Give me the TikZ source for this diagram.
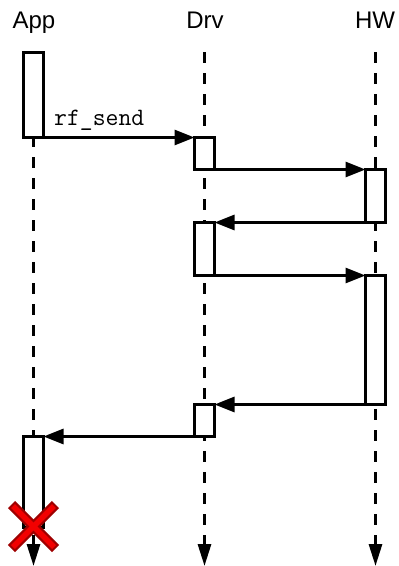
\documentclass[tikz,border=0pt]{standalone}
\usepackage{fontspec}
\setmainfont{Liberation Sans}
\usetikzlibrary{arrows.meta,calc}
\definecolor{xred}{HTML}{F20000}
\definecolor{xdark}{HTML}{9E0000}
\begin{document}
\begin{tikzpicture}[x=1pt,y=-1pt,
  head/.style={font=\fontsize{24}{28}\selectfont, anchor=base, inner sep=0},
  act/.style={draw, line width=3pt, fill=white, minimum width=20pt, inner sep=0, outer sep=0, anchor=center},
  msg/.style={line width=3pt, -{Triangle[length=20pt,width=15pt]}},
  life/.style={line width=3pt, dash pattern=on 10.5pt off 10.5pt, -{Triangle[length=22pt,width=13pt]}}
]
\useasboundingbox (0,0) rectangle (399,566);
% headers
\node[head] (happ) at (34,28) {App};
\node[head] (hdrv) at (205,28) {Drv};
\node[head] (hhw) at (375,28) {HW};
% lifelines
\coordinate (at) at (33.5,52);  \coordinate (ab) at (33.5,566);
\coordinate (dt) at (204.5,52); \coordinate (db) at (204.5,566);
\coordinate (ht) at (375.5,52); \coordinate (hb) at (375.5,566);
\draw[life] (at) -- (ab);
\draw[life] (dt) -- (db);
\draw[life] (ht) -- (hb);
% activation boxes
\node[act, minimum height=85pt] (a1) at (33.5,95) {};
\node[act, minimum height=32pt] (d1) at (204.5,153.5) {};
\node[act, minimum height=53pt] (h1) at (375.5,196) {};
\node[act, minimum height=53pt] (d2) at (204.5,249) {};
\node[act, minimum height=129pt] (h2) at (375.5,340) {};
\node[act, minimum height=32pt] (d3) at (204.5,420.5) {};
\node[act, minimum height=91pt] (a2) at (33.5,482) {};
% messages
\draw[msg] (a1.south east) -- (d1.north west);
\node[font=\fontsize{25}{28}\selectfont\ttfamily, anchor=base west, inner sep=0] (lbl) at (54,125) {rf\_send};
\draw[msg] (d1.south east) -- (h1.north west);
\draw[msg] (h1.south west) -- (d2.north east);
\draw[msg] (d2.south east) -- (h2.north west);
\draw[msg] (h2.south west) -- (d3.north east);
\draw[msg] (d3.south west) -- (a2.north east);
% destruction cross
\coordinate (x) at (33.5,526.5);
\draw[xdark, line width=10pt] ($(x)+(-22,-22)$) -- ($(x)+(22,22)$);
\draw[xdark, line width=10pt] ($(x)+(-22,22)$) -- ($(x)+(22,-22)$);
\draw[xred, line width=5.5pt] ($(x)+(-20.5,-20.5)$) -- ($(x)+(20.5,20.5)$);
\draw[xred, line width=5.5pt] ($(x)+(-20.5,20.5)$) -- ($(x)+(20.5,-20.5)$);
\end{tikzpicture}
\end{document}
